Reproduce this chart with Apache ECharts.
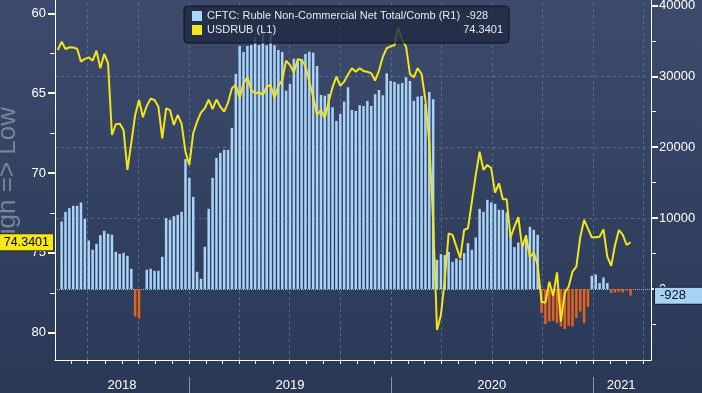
<!DOCTYPE html>
<html>
<head>
<meta charset="utf-8">
<script src="https://cdn.jsdelivr.net/npm/echarts@6/dist/echarts.min.js"></script>
<style>
html,body{margin:0;padding:0;background:#2f3d5c;}
#chart{width:702px;height:393px;}
</style>
</head>
<body>
<div id="chart"></div>
<script>
// ---- data ----
const barName = 'CFTC: Ruble Non-Commercial Net Total/Comb (R1)';
const lineName = 'USDRUB (L1)';

const barDates = [
'2018-05-15','2018-05-22','2018-05-29','2018-06-05','2018-06-12','2018-06-19','2018-06-26','2018-07-03','2018-07-10','2018-07-17','2018-07-24','2018-07-31','2018-08-07','2018-08-14','2018-08-21','2018-08-28','2018-09-04','2018-09-11','2018-09-18','2018-09-25','2018-10-02','2018-10-09','2018-10-16','2018-10-23','2018-10-30','2018-11-06','2018-11-13','2018-11-20','2018-11-27','2018-12-04','2018-12-11','2018-12-18','2018-12-25',
'2019-01-01','2019-01-08','2019-01-15','2019-01-22','2019-01-29','2019-02-05','2019-02-12','2019-02-19','2019-02-26','2019-03-05','2019-03-12','2019-03-19','2019-03-26','2019-04-02','2019-04-09','2019-04-16','2019-04-23','2019-04-30','2019-05-07','2019-05-14','2019-05-21','2019-05-28','2019-06-04','2019-06-11','2019-06-18','2019-06-25','2019-07-02','2019-07-09','2019-07-16','2019-07-23','2019-07-30','2019-08-06','2019-08-13','2019-08-20','2019-08-27','2019-09-03','2019-09-10','2019-09-17','2019-09-24','2019-10-01','2019-10-08','2019-10-15','2019-10-22','2019-10-29','2019-11-05','2019-11-12','2019-11-19','2019-11-26','2019-12-03','2019-12-10','2019-12-17','2019-12-24','2019-12-31',
'2020-01-07','2020-01-14','2020-01-21','2020-01-28','2020-02-04','2020-02-11','2020-02-18','2020-02-25','2020-03-03','2020-03-10','2020-03-17','2020-03-24','2020-03-31','2020-04-07','2020-04-14','2020-04-21','2020-04-28','2020-05-05','2020-05-12','2020-05-19','2020-05-26','2020-06-02','2020-06-09','2020-06-16','2020-06-23','2020-06-30','2020-07-07','2020-07-14','2020-07-21','2020-07-28','2020-08-04','2020-08-11','2020-08-18','2020-08-25','2020-09-01','2020-09-08','2020-09-15','2020-09-22','2020-09-29','2020-10-06','2020-10-13','2020-10-20','2020-10-27','2020-11-03','2020-11-10','2020-11-17','2020-11-24','2020-12-01','2020-12-08','2020-12-15','2020-12-22','2020-12-29',
'2021-01-05','2021-01-12','2021-01-19','2021-01-26','2021-02-02','2021-02-09','2021-02-16','2021-02-23','2021-03-02','2021-03-09'
];

const cftcNet = [
9520,10890,11410,11730,11730,12200,9900,6850,5540,6380,7610,8210,7790,7650,5250,4970,5110,4690,2860,-3860,
-4180,0,2720,2860,2580,2580,4550,10000,9760,10280,10470,10890,18310,15680,13000,2440,1450,5960,11310,15680,
18490,19200,19620,19620,22720,30330,34270,33420,34270,34410,35500,34410,36420,34370,36420,34370,33710,33420,27970,28920,
32480,32200,32400,33140,33470,33330,31450,27370,27270,27510,25630,23700,24690,26420,28450,25250,25110,25920,25820,26520,
25820,27470,28070,27320,30420,29340,29200,28920,29060,29860,29340,26520,27130,27230,26060,27790,26760,4130,4930,4790,
5250,3850,4310,4130,5070,6480,5540,7270,11310,10890,12580,12200,12010,11170,11170,10800,7890,5920,6560,6240,
7040,8770,8350,7650,-3380,-4930,-4560,-4460,-4790,-5270,-5630,-5170,-5270,-4080,-3150,-4790,-2540,1870,2060,850,
1630,850,-560,-480,-380,-480,-200,-928
];

const lineDates = ['2018-05-08'].concat(barDates);

const usdrub = [
62.30,61.78,62.24,62.13,62.14,62.22,63.03,62.86,62.76,62.97,62.34,63.44,62.55,63.13,67.62,66.95,66.91,67.31,69.81,68.12,
66.37,65.43,66.51,65.80,65.35,65.43,65.85,67.83,65.95,66.06,66.99,66.37,66.93,68.67,69.50,67.51,66.79,66.22,65.95,65.40,
66.00,65.40,65.85,66.16,65.60,64.70,64.49,65.30,64.38,64.01,64.80,65.01,64.95,65.12,64.60,64.49,65.32,64.55,64.18,62.97,
63.24,63.72,62.88,62.92,63.30,64.28,65.22,66.37,66.06,66.57,65.54,64.63,63.97,64.55,64.28,63.83,63.44,63.66,63.44,63.61,
63.66,63.76,64.22,63.59,62.72,62.19,62.07,62.00,60.90,61.67,62.09,63.80,64.01,63.44,63.80,65.43,68.14,73.00,79.83,78.89,
76.70,73.78,73.88,74.61,75.34,73.57,73.46,71.80,70.13,68.67,69.81,69.50,69.71,71.23,70.65,71.65,71.65,74.03,73.36,72.77,
74.65,73.90,75.28,74.97,75.76,78.06,78.12,76.81,77.70,76.22,79.31,77.50,77.12,76.18,75.87,74.03,72.94,73.49,74.03,74.03,
73.99,73.53,75.24,75.82,74.51,73.57,73.88,74.51,74.3401
];

const lastBarLabel = '-928';
const lastLineLabel = '74.3401';

const leftMajorTicks = [60, 65, 70, 75, 80];
const leftMinorTicks = [62.5, 67.5, 72.5, 77.5];
const rightMajorTicks = [0, 10000, 20000, 30000, 40000];
const rightMinorTicks = [-5000, 5000, 15000, 25000, 35000];
const hGridValues = [10000, 20000, 30000];
const monthTicks = [
'2018-06-01','2018-07-01','2018-08-01','2018-09-01','2018-10-01','2018-11-01','2018-12-01',
'2019-01-01','2019-02-01','2019-03-01','2019-04-01','2019-05-01','2019-06-01','2019-07-01','2019-08-01','2019-09-01','2019-10-01','2019-11-01','2019-12-01',
'2020-01-01','2020-02-01','2020-03-01','2020-04-01','2020-05-01','2020-06-01','2020-07-01','2020-08-01','2020-09-01','2020-10-01','2020-11-01','2020-12-01',
'2021-01-01','2021-02-01','2021-03-01','2021-04-01'
];
const quarterDates = ['2018-07-01','2018-10-01','2019-01-01','2019-04-01','2019-07-01','2019-10-01','2020-01-01','2020-04-01','2020-07-01','2020-10-01','2021-01-01','2021-04-01'];
const yearStarts = ['2019-01-01','2020-01-01','2021-01-01'];
const yearLabelDates = ['2018-09-01','2019-07-02','2020-07-01','2021-02-20'];

// ---- helpers / styles ----
const ts = d => Date.parse(d + 'T00:00:00Z');
const FONT = 'Liberation Sans';
const POS = '#a9d4f8';
const NEG = '#e4631c';
const LINE = '#f2e51b';
const GRIDC = '#5a6b8d';
const CLEAR = 'rgba(0,0,0,0)';
const xMin = ts('2018-05-03'), xMax = ts('2021-04-15');
const lMin = 59.17, lMax = 81.71;
const rMin = -10000, rMax = 40750;

const chart = echarts.init(document.getElementById('chart'), null, {renderer: 'canvas'});

const dashed = {type: [3, 3], color: GRIDC, width: 1};
const gridMarks = []
  .concat(quarterDates.map(d => ({xAxis: ts(d), lineStyle: dashed})))
  .concat(hGridValues.map(v => ({yAxis: v, lineStyle: dashed})))
  .concat([{yAxis: 0, lineStyle: {type: 'dotted', color: '#a9b7cf', width: 1}}]);

const option = {
  animation: false,
  backgroundColor: {
    type: 'linear', x: 0, y: 0, x2: 0, y2: 1,
    colorStops: [{offset: 0, color: '#3c4a6c'}, {offset: 1, color: '#2b3957'}]
  },
  textStyle: {fontFamily: FONT},
  grid: {left: 55, right: 51, top: 0, bottom: 33, containLabel: false, outerBoundsMode: 'none'},
  legend: {
    left: 184, top: 6, orient: 'vertical', itemGap: 0,
    itemWidth: 10, itemHeight: 10, icon: 'rect',
    padding: [3, 6, 6, 8],
    backgroundColor: 'rgba(32,42,66,0.82)',
    borderColor: '#0c111d', borderWidth: 1, borderRadius: 4,
    selectedMode: false,
    data: [
      {name: barName, itemStyle: {color: POS}},
      {name: lineName, itemStyle: {color: LINE}}
    ],
    formatter: function (name) {
      if (name === barName) return '{n|' + name + '  ' + lastBarLabel + '}';
      return '{m|' + name + '}{v|' + lastLineLabel + '}';
    },
    textStyle: {
      color: '#e8eaf0', fontSize: 11, fontFamily: FONT, lineHeight: 14,
      rich: {
        n: {color: '#e8eaf0', fontSize: 11, fontFamily: FONT, lineHeight: 14},
        m: {color: '#e8eaf0', fontSize: 11, fontFamily: FONT, lineHeight: 14, width: 236},
        v: {color: '#e8eaf0', fontSize: 11, fontFamily: FONT, lineHeight: 14, width: 60, align: 'right'}
      }
    }
  },
  xAxis: [
    {
      type: 'value', min: xMin, max: xMax, position: 'bottom', scale: true,
      axisLine: {show: true, onZero: false, lineStyle: {color: '#ffffff', width: 1}},
      axisTick: {show: true, customValues: monthTicks.map(ts), length: 4, lineStyle: {color: '#ffffff', width: 1}},
      axisLabel: {
        customValues: yearLabelDates.map(ts),
        formatter: v => String(new Date(v).getUTCFullYear()),
        color: '#ffffff', fontSize: 13, fontFamily: FONT, margin: 19
      },
      splitLine: {show: false}
    },
    {
      type: 'value', min: xMin, max: xMax, position: 'bottom', offset: 17, scale: true,
      axisLine: {show: false, onZero: false},
      axisTick: {show: true, customValues: yearStarts.map(ts), length: 16, lineStyle: {color: '#8b94a8', width: 1}},
      axisLabel: {show: false},
      splitLine: {show: false}
    }
  ],
  yAxis: [
    {
      type: 'value', position: 'left', inverse: true, min: lMin, max: lMax,
      axisLine: {show: true, onZero: false, lineStyle: {color: '#ffffff', width: 1}},
      axisTick: {show: true, customValues: leftMajorTicks, length: 7, lineStyle: {color: '#ffffff', width: 2}},
      axisLabel: {customValues: leftMajorTicks, color: '#ffffff', fontSize: 13, fontFamily: FONT, margin: 9},
      splitLine: {show: false},
      name: 'High => Low', nameLocation: 'middle', nameGap: 25,
      nameTextStyle: {color: 'rgba(140,148,168,0.8)', fontSize: 26, fontFamily: FONT}
    },
    {
      type: 'value', position: 'right', min: rMin, max: rMax,
      axisLine: {show: true, onZero: false, lineStyle: {color: '#ffffff', width: 1}},
      axisTick: {show: true, customValues: rightMajorTicks, length: 7, lineStyle: {color: '#ffffff', width: 2}},
      axisLabel: {customValues: rightMajorTicks, formatter: v => String(v), color: '#ffffff', fontSize: 13, fontFamily: FONT, margin: 8},
      splitLine: {show: false}
    },
    {
      type: 'value', position: 'left', inverse: true, min: lMin, max: lMax,
      axisLine: {show: false, onZero: false},
      axisTick: {show: true, customValues: leftMinorTicks, length: 5, lineStyle: {color: '#ffffff', width: 1}},
      axisLabel: {show: false},
      splitLine: {show: false}
    },
    {
      type: 'value', position: 'right', min: rMin, max: rMax,
      axisLine: {show: false, onZero: false},
      axisTick: {show: true, customValues: rightMinorTicks, length: 5, lineStyle: {color: '#ffffff', width: 1}},
      axisLabel: {show: false},
      splitLine: {show: false}
    }
  ],
  series: [
    {
      name: 'gridHelper', type: 'line', xAxisIndex: 0, yAxisIndex: 1, z: 0,
      data: [], silent: true,
      markLine: {
        silent: true, z: 0, symbol: ['none', 'none'], animation: false,
        label: {show: false},
        data: gridMarks
      }
    },
    {
      name: barName, type: 'bar', xAxisIndex: 0, yAxisIndex: 1,
      barWidth: 2.5, z: 2,
      data: barDates.map((d, i) => [ts(d), cftcNet[i]]),
      itemStyle: {color: p => (p.value[1] < 0 ? NEG : POS)}
    },
    {
      name: lineName, type: 'line', xAxisIndex: 0, yAxisIndex: 0, z: 3,
      data: lineDates.map((d, i) => [ts(d), usdrub[i]]),
      symbol: 'none', showSymbol: false,
      lineStyle: {color: LINE, width: 2},
      itemStyle: {color: LINE},
      markLine: {
        silent: true, symbol: ['none', 'none'], animation: false, z: 6,
        data: [{
          yAxis: 74.3401,
          lineStyle: {color: CLEAR, width: 1},
          label: {
            show: true, position: 'start', distance: 2, formatter: lastLineLabel,
            color: '#000000', fontSize: 12.5, fontFamily: FONT,
            backgroundColor: '#f7e61a', borderColor: '#3a3a10', borderWidth: 1,
            padding: [2, 4, 1, 4]
          }
        }]
      }
    },
    {
      name: 'tagR', type: 'line', xAxisIndex: 0, yAxisIndex: 1, z: 3,
      data: [], silent: true,
      markLine: {
        silent: true, symbol: ['none', 'none'], animation: false, z: 6,
        data: [{
          yAxis: -928,
          lineStyle: {color: CLEAR, width: 1},
          label: {
            show: true, position: 'end', distance: 4, formatter: lastBarLabel,
            color: '#0b0f18', fontSize: 13, fontFamily: FONT,
            backgroundColor: '#a8d3f7', borderColor: '#151b2c', borderWidth: 1,
            padding: [2, 18, 1, 5]
          }
        }]
      }
    }
  ]
};

chart.setOption(option);
</script>
</body>
</html>
